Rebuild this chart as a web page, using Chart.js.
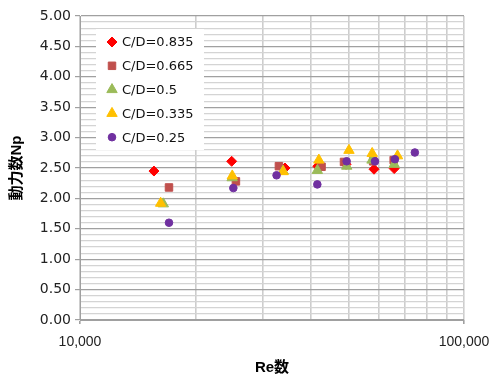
<!DOCTYPE html>
<html>
<head>
<meta charset="utf-8">
<script src="https://cdn.jsdelivr.net/npm/chart.js@4"></script>
<style>
  html, body { margin: 0; padding: 0; background: #fff; }
  #wrap { width: 489px; height: 377px; position: relative; }
</style>
</head>
<body>
<div id="wrap"><canvas id="npChart" width="489" height="377"></canvas></div>
<script>
// series data (Re, Np)
const seriesNames = ['C/D=0.835', 'C/D=0.665', 'C/D=0.5', 'C/D=0.335', 'C/D=0.25'];

const re835 = [15580, 24830, 34190, 41600, 49300, 58300, 65800];
const np835 = [2.45, 2.61, 2.50, 2.53, 2.56, 2.48, 2.49];

const re665 = [17050, 25470, 32960, 42560, 48700, 58000, 65600];
const np665 = [2.18, 2.28, 2.53, 2.52, 2.60, 2.61, 2.63];

const re500 = [16480, 24900, 33800, 41500, 49500, 57600, 65800];
const np500 = [1.91, 2.34, 2.45, 2.46, 2.53, 2.63, 2.56];

const re335 = [16220, 24920, 33800, 41880, 50170, 57660, 67120];
const np335 = [1.92, 2.37, 2.44, 2.63, 2.79, 2.74, 2.70];

const re250 = [17050, 25080, 32500, 41500, 49480, 58640, 66090, 74470];
const np250 = [1.60, 2.17, 2.38, 2.23, 2.61, 2.61, 2.645, 2.755];

// log axis: grid at 1..9 x 10^4, labels only at the decades
const xGridValues = [10000, 20000, 30000, 40000, 50000, 60000, 70000, 80000, 90000, 100000];
const xTickLabels = [10000, 100000];

function toPoints(xs, ys) {
    return xs.map(function(x, i) { return { x: x, y: ys[i] }; });
}

const styles = [
    { color: '#ff0000', pointStyle: 'rectRot', radius: 5 },
    { color: '#c0504d', pointStyle: 'rect', radius: 5.3 },
    { color: '#9bbb59', pointStyle: 'triangle', radius: 6 },
    { color: '#ffc000', pointStyle: 'triangle', radius: 6 },
    { color: '#7030a0', pointStyle: 'circle', radius: 3.8 }
];

const allData = [
    toPoints(re835, np835),
    toPoints(re665, np665),
    toPoints(re500, np500),
    toPoints(re335, np335),
    toPoints(re250, np250)
];

const datasets = allData.map(function(pts, i) {
    return {
        label: seriesNames[i],
        data: pts,
        showLine: false,
        pointStyle: styles[i].pointStyle,
        pointRadius: styles[i].radius,
        pointHoverRadius: styles[i].radius,
        pointBackgroundColor: styles[i].color,
        pointBorderColor: styles[i].color,
        pointBorderWidth: 1,
        // first series at the bottom, last on top (like Excel)
        order: seriesNames.length - i
    };
});

function isMajor(v) {
    return Math.round(v * 10) % 5 === 0;
}

function tickVal(c) {
    return c && c.tick ? c.tick.value : null;
}

// legend drawn inside the plot area
const innerLegend = {
    id: 'innerLegend',
    afterDraw: function(chart) {
        const ctx = chart.ctx;
        ctx.save();
        ctx.fillStyle = '#ffffff';
        ctx.fillRect(96, 29, 108, 121);
        ctx.font = '13px "DejaVu Sans", sans-serif';
        ctx.textBaseline = 'middle';
        for (let i = 0; i < seriesNames.length; i++) {
            const y = 42 + i * 23.8;
            const st = styles[i];
            ctx.fillStyle = st.color;
            ctx.strokeStyle = st.color;
            ctx.lineWidth = 1;
            Chart.helpers.drawPoint(ctx, {
                pointStyle: st.pointStyle,
                radius: st.radius,
                rotation: 0,
                borderWidth: 1
            }, 112, y);
            ctx.fillStyle = '#111';
            ctx.fillText(seriesNames[i], 122, y + 1);
        }
        ctx.restore();
    }
};

new Chart(document.getElementById('npChart'), {
    type: 'scatter',
    data: { datasets: datasets },
    options: {
        responsive: false,
        animation: false,
        layout: { padding: { top: 16, right: 25, left: 0, bottom: 0 } },
        plugins: {
            legend: { display: false },
            tooltip: { enabled: false }
        },
        scales: {
            x: {
                type: 'logarithmic',
                min: 10000,
                max: 100000,
                afterFit: function(s) {
                    s.height = 57;
                    // let layout.padding decide the side margins
                    s.paddingLeft = 0;
                    s.paddingRight = 0;
                },
                afterBuildTicks: function(s) {
                    s.ticks = xGridValues.map(function(v) { return { value: v }; });
                },
                grid: {
                    display: true,
                    drawOnChartArea: true,
                    color: '#cdcdcd',
                    lineWidth: 1.6,
                    tickLength: 4,
                    tickColor: function(c) {
                        return xTickLabels.indexOf(tickVal(c)) >= 0 ? '#a0a0a0' : 'rgba(0,0,0,0)';
                    }
                },
                border: { display: true, color: '#a0a0a0', width: 1 },
                ticks: {
                    autoSkip: false,
                    maxRotation: 0,
                    padding: 10,
                    color: '#222',
                    font: { family: '"Liberation Sans", Arial, sans-serif', size: 14 },
                    callback: function(value) {
                        if (xTickLabels.indexOf(value) >= 0) {
                            return value.toLocaleString('en-US');
                        }
                        return '';
                    }
                },
                title: {
                    display: true,
                    text: 'Re数',
                    color: '#000',
                    padding: { top: 0, bottom: 0 },
                    font: { family: '"Liberation Sans", "Noto Sans CJK JP", sans-serif', size: 15, weight: 'bold' }
                }
            },
            y: {
                min: 0,
                max: 5,
                afterFit: function(s) {
                    s.width = 80;
                    s.paddingTop = 0;
                    s.paddingBottom = 0;
                },
                grid: {
                    display: true,
                    drawOnChartArea: true,
                    color: function(c) {
                        const v = tickVal(c);
                        return v !== null && isMajor(v) ? '#a0a0a0' : '#d4d4d4';
                    },
                    lineWidth: 1.2,
                    tickLength: 5,
                    tickColor: function(c) {
                        const v = tickVal(c);
                        return v !== null && isMajor(v) ? '#a0a0a0' : 'rgba(0,0,0,0)';
                    }
                },
                border: { display: true, color: '#a0a0a0', width: 1 },
                ticks: {
                    stepSize: 0.1,
                    autoSkip: false,
                    padding: 4,
                    color: '#222',
                    font: { family: '"DejaVu Sans", sans-serif', size: 14 },
                    callback: function(value) {
                        if (isMajor(value)) {
                            return value.toFixed(2);
                        }
                        return '';
                    }
                },
                title: {
                    display: true,
                    text: '動力数Np',
                    color: '#000',
                    padding: { top: 8, bottom: 0 },
                    font: { family: '"Liberation Sans", "Noto Sans CJK JP", sans-serif', size: 15, weight: 'bold' }
                }
            }
        }
    },
    plugins: [innerLegend]
});
</script>
</body>
</html>
